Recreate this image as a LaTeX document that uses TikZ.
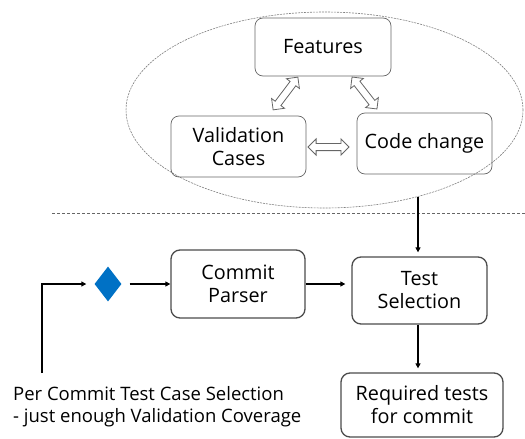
\documentclass[tikz,border=0pt]{standalone}
\usepackage{fontspec}
\setmainfont{Open Sans}
\usetikzlibrary{shapes.geometric,shapes.arrows,arrows.meta}
\definecolor{intelblue}{HTML}{0071C5}
\begin{document}
\begin{tikzpicture}[x=1pt,y=-1pt,
  txt/.style={font=\fontsize{18.5}{22}\selectfont},
  btxt/.style={font=\fontsize{19.8}{23}\selectfont},
  upbox/.style={draw=black!60, rounded corners=8pt, line width=0.7pt, align=center, inner sep=0pt, btxt},
  lowbox/.style={draw=black!70, rounded corners=9pt, line width=1.3pt, align=center, inner sep=0pt, btxt},
  dblarrow/.style={double arrow, draw=black!60, fill=white, line width=0.8pt, inner xsep=0pt, inner ysep=3.2pt,
     minimum width=16pt, double arrow head extend=4.5pt, double arrow head indent=0pt},
  flow/.style={draw=black, line width=1.3pt, -{Triangle[length=5pt,width=5pt]}},
  grp/.style={ellipse, draw=black!50, line width=0.6pt, dash pattern=on 2pt off 1pt, inner sep=0pt},
  sep/.style={draw=black!60, line width=0.7pt, dash pattern=on 3pt off 2pt}
]
\useasboundingbox (0,0) rectangle (525,439);
\node[grp, minimum width=397pt, minimum height=196pt] (group) at (324.5,110) {};
\node[upbox, minimum width=136pt, minimum height=58pt] (feat) at (323,47) {Features};
\node[upbox, minimum width=135pt, minimum height=61pt] (val) at (238.5,146.5) {Validation\\Cases};
\node[upbox, minimum width=135pt, minimum height=61pt] (code) at (424.5,143.5) {Code change};
\node[dblarrow, minimum height=41pt, rotate=53] (fv) at (285.5,93.5) {};
\node[dblarrow, minimum height=40.5pt, rotate=-52] (fc) at (364.5,93) {};
\node[dblarrow, minimum height=41pt] (vc) at (328.5,147) {};
\coordinate (sepL) at (52,213);
\coordinate (sepR) at (525,213);
\draw[sep] (sepL) -- (sepR);
\node[diamond, fill=intelblue, minimum width=27pt, minimum height=35pt, inner sep=0pt, aspect=0.77] (dia) at (108,284) {};
\node[lowbox, minimum width=134pt, minimum height=68pt] (cp) at (238,284) {Commit\\Parser};
\node[lowbox, minimum width=135pt, minimum height=67pt] (ts) at (419.5,290.5) {Test\\Selection};
\node[lowbox, minimum width=162pt, minimum height=64pt] (req) at (422,405) {Required tests\\for commit};
\coordinate (top) at (418,197);
\coordinate (start) at (42,373);
\draw[flow, shorten >=8pt] (start) |- (dia.west);
\draw[flow, shorten <=8pt] (dia.east) -- (cp.west);
\draw[flow, shorten >=6pt] (cp.east) -- (cp.east -| ts.west);
\draw[flow, shorten >=4pt] (top) -- (top |- ts.north);
\draw[flow, shorten >=4pt] (ts.south -| top) -- (top |- req.north);
\node[txt, anchor=north west, align=left, inner sep=0pt] (cap) at (13,386) {Per Commit Test Case Selection\\- just enough Validation Coverage};
\end{tikzpicture}
\end{document}
